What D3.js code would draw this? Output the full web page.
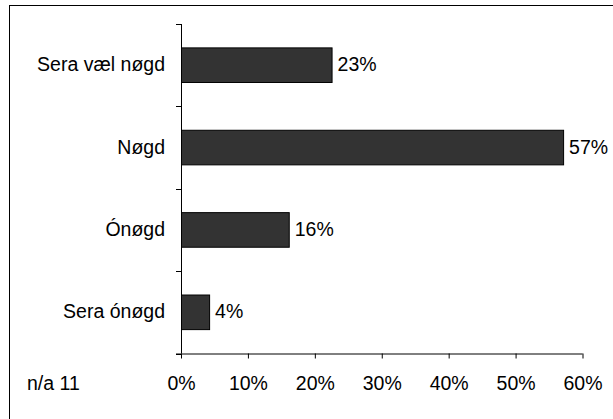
<!DOCTYPE html>
<html><head><meta charset="utf-8">
<script src="https://cdn.jsdelivr.net/npm/d3@7"></script>
<style>body{margin:0;background:#fff}svg{display:block}</style>
</head><body>
<script>
const categories = ["Sera væl nøgd", "Nøgd", "Ónøgd", "Sera ónøgd"];
const values = [0.225, 0.571, 0.161, 0.042];
const valueLabels = ["23%", "57%", "16%", "4%"];
const xTicks = [0, 0.1, 0.2, 0.3, 0.4, 0.5, 0.6];
const note = "n/a 11";

const W = 613, H = 419;
const FS = 19.5;
const svg = d3.select("body").append("svg").attr("width", W).attr("height", H);
const font = "Liberation Sans, Arial, sans-serif";
svg.append("rect").attr("x", 9.5).attr("y", 5.5).attr("width", 610).attr("height", 420)
  .attr("fill", "#fff").attr("stroke", "#000").attr("stroke-width", 1);

const x = d3.scaleLinear().domain([0, 0.6]).range([181, 582.5]);
const y = d3.scaleBand().domain(categories).range([24, 353.5]).paddingInner(0.58).paddingOuter(0.29);
const yb = d3.scaleBand().domain(categories).range([24, 353.5]);

const g = svg.append("g");
g.selectAll("rect.bar").data(categories).join("rect").attr("class", "bar")
  .attr("x", x(0) + 0.5).attr("y", d => y(d)).attr("width", (d, i) => x(values[i]) - x(0))
  .attr("height", y.bandwidth()).attr("fill", "#333333").attr("stroke", "#000").attr("stroke-width", 1);

g.selectAll("text.val").data(categories).join("text").attr("class", "val")
  .attr("x", (d, i) => x(values[i]) + 6).attr("y", d => y(d) + y.bandwidth() / 2 + 6)
  .attr("font-family", font).attr("font-size", FS).attr("fill", "#000")
  .text((d, i) => valueLabels[i]);

// y axis
g.append("line").attr("x1", 181.5).attr("x2", 181.5).attr("y1", 24).attr("y2", 353.5).attr("stroke", "#000");
const yTickPos = categories.map(c => yb(c)).concat([353.5]);
g.selectAll("line.yt").data(yTickPos).join("line").attr("class", "yt")
  .attr("x1", 176).attr("x2", 181.5).attr("y1", d => Math.round(d) + 0.5).attr("y2", d => Math.round(d) + 0.5).attr("stroke", "#000");
g.selectAll("text.cat").data(categories).join("text").attr("class", "cat")
  .attr("x", 165).attr("y", d => yb(d) + yb.bandwidth() / 2 + 6)
  .attr("text-anchor", "end").attr("font-family", font).attr("font-size", FS).attr("fill", "#000").text(d => d);

// x axis
const xAxis = d3.axisBottom(x).tickValues(xTicks).tickFormat(d3.format(".0%")).tickSize(5).tickSizeOuter(0);
const ax = svg.append("g").attr("transform", "translate(0,353.5)").call(xAxis);
ax.select(".domain").attr("stroke", "#000").attr("d", `M176,0.5H${x(0.6)}`);
ax.selectAll(".tick line").attr("stroke", "#000");
ax.selectAll(".tick text").attr("font-family", font).attr("font-size", FS).attr("fill", "#000")
  .attr("y", 36).attr("dy", 0);

svg.append("text").attr("x", 27).attr("y", 389.5).attr("font-family", font)
  .attr("font-size", FS).attr("fill", "#000").text(note);
</script>
</body></html>
